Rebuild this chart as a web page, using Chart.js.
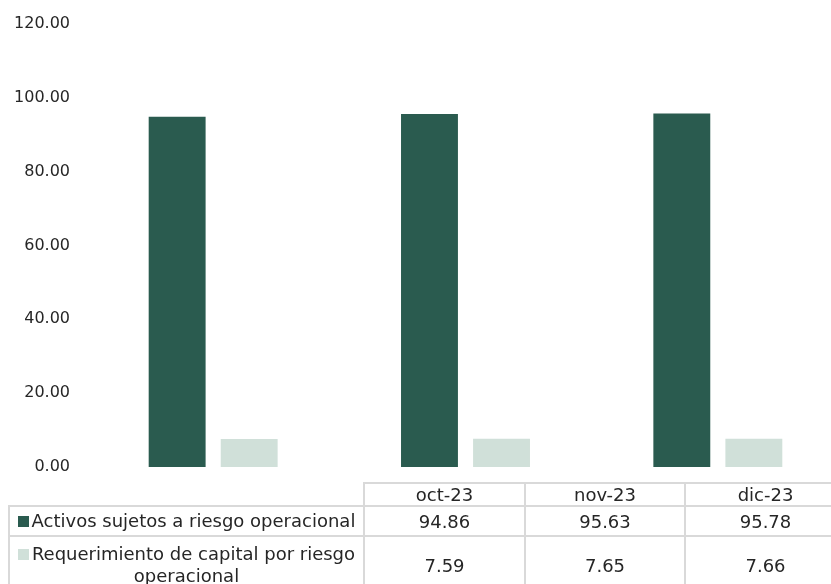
<!DOCTYPE html>
<html>
<head>
<meta charset="utf-8">
<script src="https://cdn.jsdelivr.net/npm/chart.js@4/dist/chart.umd.min.js"></script>
<style>
    html, body { margin: 0; padding: 0; background: #fff; overflow: hidden; }
    body { width: 831px; height: 584px; position: relative; font-family: 'DejaVu Sans', sans-serif; color: #262626; }
    #operationalRiskChart { position: absolute; left: 0; top: 0; }
    #dataTable { position: absolute; left: 8px; top: 482px; width: 837px; table-layout: fixed; border-collapse: collapse; font-size: 18px; }
    #dataTable td { border: 2px solid #d9d9d9; text-align: center; padding: 0; white-space: normal; }
    #dataTable td.blank { border: none; border-bottom: 2px solid #d9d9d9; }
    .swatch { display: inline-block; width: 11px; height: 11px; margin-right: 3px; }
</style>
</head>
<body>
<canvas id="operationalRiskChart" width="844" height="494"></canvas>
<table id="dataTable"></table>
<script>
const months = ['oct-23', 'nov-23', 'dic-23'];
const seriesNames = ['Activos sujetos a riesgo operacional', 'Requerimiento de capital por riesgo operacional'];
const activosValues = [94.86, 95.63, 95.78];
const requerimientoValues = [7.59, 7.65, 7.66];
const colours = ['#2a5b4f', '#d0e0d9'];

function buildTable() {
    const table = document.querySelector('#dataTable');
    const colWidths = [355, 161, 160, 161];

    const colgroup = document.createElement('colgroup');
    colWidths.forEach((w) => {
        const col = document.createElement('col');
        col.style.width = `${w}px`;
        colgroup.appendChild(col);
    });
    table.appendChild(colgroup);

    const header = document.createElement('tr');
    header.style.height = '23px';
    const blank = document.createElement('td');
    blank.className = 'blank';
    header.appendChild(blank);
    months.forEach((month) => {
        const td = document.createElement('td');
        td.textContent = month;
        header.appendChild(td);
    });
    table.appendChild(header);

    const rows = [activosValues, requerimientoValues];
    const heights = ['30px', '58px'];
    rows.forEach((values, r) => {
        const tr = document.createElement('tr');
        tr.style.height = heights[r];
        const label = document.createElement('td');
        const swatch = document.createElement('span');
        swatch.className = 'swatch';
        swatch.style.background = colours[r];
        label.appendChild(swatch);
        label.appendChild(document.createTextNode(seriesNames[r]));
        label.style.padding = '0 6px';
        label.style.lineHeight = '22px';
        tr.appendChild(label);
        values.forEach((v) => {
            const td = document.createElement('td');
            td.textContent = v.toFixed(2);
            tr.appendChild(td);
        });
        table.appendChild(tr);
    });
}

function createChart() {
    const ctx = document.querySelector('#operationalRiskChart').getContext('2d');
    new Chart(ctx, {
        type: 'bar',
        data: {
            labels: months,
            datasets: [
                { label: seriesNames[0], data: activosValues, backgroundColor: colours[0] },
                { label: seriesNames[1], data: requerimientoValues, backgroundColor: colours[1] },
            ],
        },
        options: {
            responsive: false,
            animation: false,
            layout: { padding: { top: 24, bottom: 27, left: 0, right: 0 } },
            datasets: {
                bar: { categoryPercentage: 0.571, barPercentage: 0.79 },
            },
            plugins: {
                legend: { display: false },
                tooltip: { enabled: false },
            },
            scales: {
                x: { display: false },
                y: {
                    min: 0,
                    max: 120,
                    ticks: {
                        stepSize: 20,
                        padding: 17,
                        color: '#262626',
                        font: { family: 'DejaVu Sans', size: 16 },
                        callback: (v) => v.toFixed(2),
                    },
                    grid: { display: false, drawTicks: false },
                    border: { display: false },
                    afterFit: (scale) => {
                        scale.width = 87;
                        scale.paddingTop = 0;
                        scale.paddingBottom = 0;
                    },
                },
            },
        },
    });
}

buildTable();
createChart();
</script>
</body>
</html>
